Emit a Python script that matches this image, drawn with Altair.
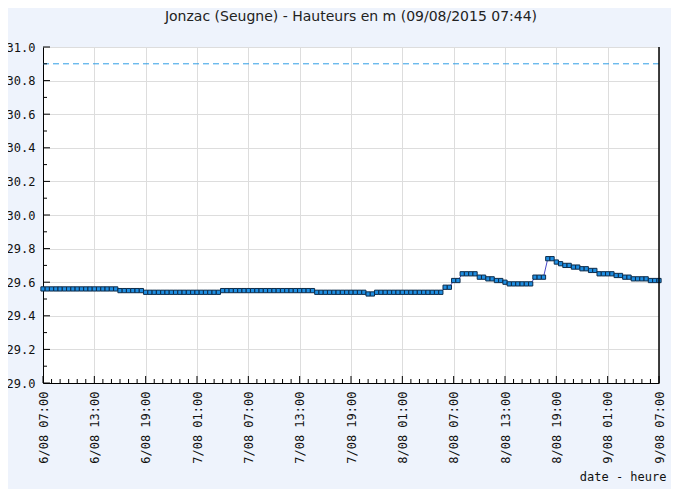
import altair as alt
import pandas as pd

# ---- data ----
start_time = "2015-08-06 07:00"
step = "30min"
levels = (
    [29.56] * 18 + [29.55] * 6 + [29.54] * 18 + [29.55] * 22 + [29.54] * 12 +
    [29.53] * 2 + [29.54] * 16 + [29.57] * 2 + [29.61] * 2 + [29.65] * 4 +
    [29.63] * 2 + [29.62] * 2 + [29.61] * 2 + [29.60] * 1 + [29.59] * 6 +
    [29.63] * 3 + [29.74] * 2 + [29.72] * 1 + [29.71] * 1 + [29.70] * 2 +
    [29.69] * 2 + [29.68] * 2 + [29.67] * 2 + [29.65] * 4 + [29.64] * 2 +
    [29.63] * 2 + [29.62] * 4 + [29.61] * 3
)
times = pd.date_range(start_time, periods=len(levels), freq=step).strftime("%Y-%m-%dT%H:%M:%S")
threshold = [30.9]
y_major = [29.0, 29.2, 29.4, 29.6, 29.8, 30.0, 30.2, 30.4, 30.6, 30.8, 31.0]
y_minor = [29.1, 29.3, 29.5, 29.7, 29.9, 30.1, 30.3, 30.5, 30.7, 30.9]
x_start, x_end = "2015-08-06T07:00:00", "2015-08-09T07:00:00"
hours = pd.date_range("2015-08-06 07:00", "2015-08-09 07:00", freq="1h")
x_major = [t.strftime("%Y-%m-%dT%H:%M:%S") for t in hours if (t.hour - 7) % 6 == 0]
x_minor = [t.strftime("%Y-%m-%dT%H:%M:%S") for t in hours if (t.hour - 7) % 6 != 0]
title = "Jonzac (Seugne) - Hauteurs en m (09/08/2015 07:44)"

df = pd.DataFrame({"t": times, "h": levels})

W, H = 616, 336
FONT = "DejaVu Sans Mono"

x_scale = alt.Scale(domain=[x_start, x_end])
y_scale = alt.Scale(domain=[29.0, 31.0], nice=False, zero=False)

major_vals = [alt.DateTime(year=2015, month=8, date=int(s[8:10]), hours=int(s[11:13])) for s in x_major]

xax = alt.Axis(
    values=major_vals, tickCount=40, format="%-d/%m %H:%M", labelAngle=270, labelFont=FONT,
    labelFontSize=12, labelColor="#111", ticks=False, labelPadding=8,
    domainColor="#000", gridColor="#dddddd", grid=True,
    title="date - heure", titleFont=FONT, titleFontSize=12, titleFontWeight="normal",
    titleColor="#111", titleAnchor="end", titleAlign="right", titleX=623, titleY=100,
    titleBaseline="bottom", labelOverlap=False)
yax = alt.Axis(
    values=y_major, tickCount=40, format=".1f", labelFont=FONT, labelFontSize=12,
    labelColor="#111", ticks=False, labelPadding=8, domainColor="#000",
    gridColor="#dddddd", grid=True, title=None, labelOverlap=False)

X = alt.X("t:T", scale=x_scale, axis=xax)
Y = alt.Y("h:Q", scale=y_scale, axis=yax)

base = alt.Chart(df)

line = base.mark_line(color="#4848c8", strokeWidth=1).encode(x=X, y=Y)

points = base.mark_square(size=18, filled=True, fill="#1e8ee2", stroke="#0d2c4a",
                          strokeWidth=1, opacity=1).encode(x=X, y=Y)

dash = alt.Chart(pd.DataFrame({"h": threshold})).mark_rule(
    color="#2f9ee6", strokeDash=[6, 4], strokeWidth=1).encode(y=Y)

ymaj = alt.Chart(pd.DataFrame({"h": y_major})).mark_rule(color="#000").encode(
    y=Y, x=alt.value(0), x2=alt.value(7))
ymin = alt.Chart(pd.DataFrame({"h": y_minor})).mark_rule(color="#000").encode(
    y=Y, x=alt.value(0), x2=alt.value(4))
xmaj = alt.Chart(pd.DataFrame({"t": x_major})).mark_rule(color="#000").encode(
    x=X, y=alt.value(H), y2=alt.value(H - 7))
xmin = alt.Chart(pd.DataFrame({"t": x_minor})).mark_rule(color="#000").encode(
    x=X, y=alt.value(H), y2=alt.value(H - 4))
right = alt.Chart(pd.DataFrame({"t": [x_end]})).mark_rule(color="#000", strokeWidth=1.5).encode(
    x=X, y=alt.value(0), y2=alt.value(H))

chart = alt.layer(line, dash, points, ymaj, ymin, xmaj, xmin, right).properties(
    width=W, height=H,
    title=alt.TitleParams(title, font="DejaVu Sans", fontSize=14, fontWeight="normal",
                          color="#222", anchor="middle", offset=17),
    autosize=alt.AutoSizeParams(type="none"),
    padding={"left": 35, "top": 39, "right": 12, "bottom": 106},
    background="#eef3fc",
).configure_view(stroke=None, fill="#ffffff")

chart.save("out.html", embed_options={"renderer": "svg", "actions": False})
